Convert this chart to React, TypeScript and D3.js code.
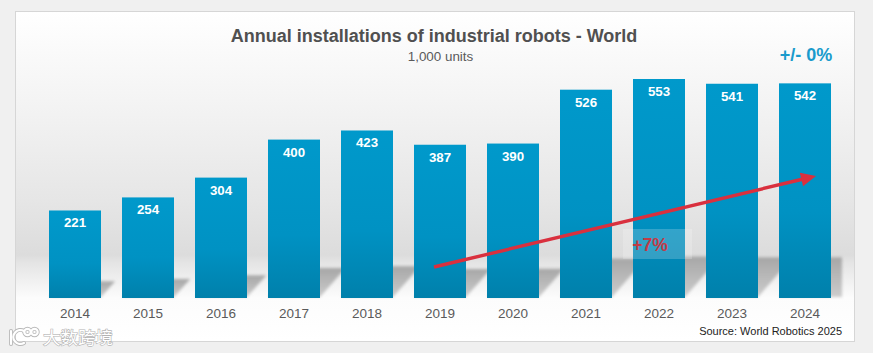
import React from "react";
import * as d3 from "d3";

const years = ["2014","2015","2016","2017","2018","2019","2020","2021","2022","2023","2024"];
const installations = [221,254,304,400,423,387,390,526,553,541,542];
const title = "Annual installations of industrial robots - World";
const subtitle = "1,000 units";
const source = "Source: World Robotics 2025";
const cagrLabel = "+7%";
const lastChangeLabel = "+/- 0%";
const watermark = "大数跨境";

const W = 873, H = 353;
const baseY = 298;
const x = d3.scaleBand<string>().domain(years).range([49, 831]).paddingInner(21 / 73).paddingOuter(0);
const y = d3.scaleLinear().domain([0, 553]).range([baseY, 79]);

const font = "'Liberation Sans', Arial, sans-serif";
const arrow = { x1: 434, y1: 267, x2: 816, y2: 176 };
const ang = Math.atan2(arrow.y2 - arrow.y1, arrow.x2 - arrow.x1);
const headLen = 15, headHalf = 7;
const ax = (l: number, o: number) => arrow.x2 - l * Math.cos(ang) - o * Math.sin(ang);
const ay = (l: number, o: number) => arrow.y2 - l * Math.sin(ang) + o * Math.cos(ang);

export default function App() {
  const shadows = years.map((yr, i) => {
    const h = baseY - y(installations[i]);
    const sh = h * 0.19;
    const l = x(yr)!, r = l + x.bandwidth();
    const dx = sh * 0.85;
    const last = i === years.length - 1;
    return `M${l},${baseY - 1} L${last ? r + dx : r},${baseY - 1} L${r + dx},${baseY - sh} L${l + dx},${baseY - sh} Z`;
  });
  return (
    <svg width={W} height={H} style={{ position: "fixed", left: 0, top: 0, display: "block" }} fontFamily={font}>
      <defs>
        <linearGradient id="panel" x1="0" y1="0" x2="0" y2="1">
          <stop offset="0" stopColor="#ffffff" />
          <stop offset="0.268" stopColor="#f4f4f4" />
          <stop offset="0.571" stopColor="#e6e6e6" />
          <stop offset="0.738" stopColor="#dcdcdc" />
          <stop offset="0.76" stopColor="#e4e4e4" />
          <stop offset="0.868" stopColor="#fcfcfc" />
          <stop offset="1" stopColor="#ffffff" />
        </linearGradient>
        <linearGradient id="bar" x1="0" y1="0" x2="0" y2="1">
          <stop offset="0" stopColor="#0099cb" />
          <stop offset="0.6" stopColor="#0092c3" />
          <stop offset="1" stopColor="#0080ab" />
        </linearGradient>
        <linearGradient id="shade" x1="0" y1="0" x2="0" y2="1">
          <stop offset="0" stopColor="#a6a6a6" />
          <stop offset="1" stopColor="#cccccc" />
        </linearGradient>
        <filter id="soft" x="-20%" y="-20%" width="140%" height="140%">
          <feGaussianBlur stdDeviation="1.5" />
        </filter>
        <clipPath id="shClip">
          <rect x={16} y={256} width={826} height={42} />
        </clipPath>
      </defs>
      <rect x={0} y={0} width={W} height={H} fill="#f0f0f0" />
      <rect x={15.5} y={11.5} width={839} height={330} fill="url(#panel)" stroke="#d6d6d6" />

      <g filter="url(#soft)">
        <g clipPath="url(#shClip)">
          {shadows.map((d, i) => (
            <path key={years[i]} d={d} fill="url(#shade)" />
          ))}
        </g>
      </g>

      {years.map((yr, i) => (
        <rect key={yr} x={x(yr)} y={y(installations[i])} width={x.bandwidth()} height={baseY - y(installations[i])} fill="url(#bar)" />
      ))}

      {years.map((yr, i) => (
        <text key={yr} x={x(yr)! + x.bandwidth() / 2} y={y(installations[i]) + 17} textAnchor="middle" fill="#ffffff" fontWeight="bold" fontSize={13.3}>
          {installations[i]}
        </text>
      ))}

      {years.map((yr) => (
        <text key={yr} x={x(yr)! + x.bandwidth() / 2} y={318} textAnchor="middle" fill="#5a5a5a" fontSize={13.5}>
          {yr}
        </text>
      ))}

      <rect x={623} y={229} width={69} height={30} fill="#ffffff" fillOpacity={0.2} />
      <text x={650} y={251} textAnchor="middle" fill="#c23a46" fontWeight="bold" fontSize={17.5}>{cagrLabel}</text>

      <line x1={arrow.x1} y1={arrow.y1} x2={ax(headLen - 2, 0)} y2={ay(headLen - 2, 0)} stroke="#d9303e" strokeWidth={3.4} />
      <path d={`M${arrow.x2},${arrow.y2} L${ax(headLen, headHalf)},${ay(headLen, headHalf)} L${ax(headLen, -headHalf)},${ay(headLen, -headHalf)} Z`} fill="#d9303e" />

      <text x={434} y={41.5} textAnchor="middle" fill="#505050" fontWeight="bold" fontSize={18}>{title}</text>
      <text x={440.5} y={61} textAnchor="middle" fill="#5a5a5a" fontSize={13.4}>{subtitle}</text>
      <text x={806} y={61} textAnchor="middle" fill="#1a9bcc" fontWeight="bold" fontSize={18}>{lastChangeLabel}</text>
      <text x={842} y={335} textAnchor="end" fill="#222222" fontSize={11}>{source}</text>

      <g fill="none" strokeLinecap="round">
        <g stroke="#b8b8b8" strokeWidth={4}>
          <path d="M11,331 L11,344 M24,331 A7,7 0 1 0 24,343" />
          <circle cx={27.5} cy={332} r={3.2} />
          <circle cx={34.5} cy={332} r={3.2} />
        </g>
        <g stroke="#ffffff" strokeWidth={2.2}>
          <path d="M11,331 L11,344 M24,331 A7,7 0 1 0 24,343" />
          <circle cx={27.5} cy={332} r={3.2} />
          <circle cx={34.5} cy={332} r={3.2} />
        </g>
      </g>
      <text x={43} y={344} fill="#ffffff" stroke="#b4b4b4" strokeWidth={1.2} paintOrder="stroke" fontSize={17.5} fontFamily="'Noto Sans CJK SC', sans-serif">{watermark}</text>
    </svg>
  );
}
